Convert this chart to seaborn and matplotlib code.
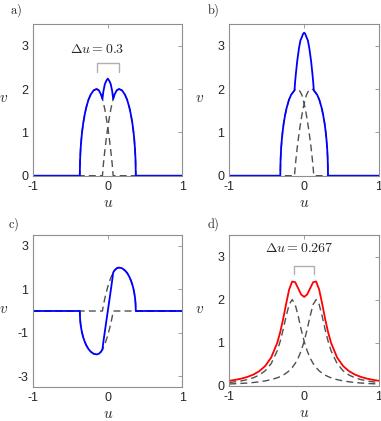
import numpy as np
import matplotlib
matplotlib.use("Agg")
import matplotlib.pyplot as plt
import seaborn as sns

sns.set_style("white")
plt.rcParams["font.family"] = ["Liberation Sans", "DejaVu Sans"]
plt.rcParams["mathtext.fontset"] = "cm"

# panel a: two humps 0.3 apart
u_a = [-1, -0.376, -0.372, -0.365, -0.355, -0.345, -0.33, -0.31, -0.29, -0.26, -0.23, -0.19,
       -0.15, -0.12, -0.09, -0.072, -0.06, -0.04, -0.02, 0, 0.02, 0.04, 0.06, 0.072, 0.09,
       0.12, 0.15, 0.19, 0.23, 0.26, 0.29, 0.31, 0.33, 0.345, 0.355, 0.365, 0.372, 0.376, 1]
left_a = [0, 0, 0.37, 0.62, 0.84, 1.01, 1.21, 1.41, 1.57, 1.75, 1.87, 1.97,
          2.0, 1.97, 1.87, 1.77, 1.69, 1.53, 1.33, 1.12, 0.86, 0.58, 0.25, 0, 0,
          0, 0, 0, 0, 0, 0, 0, 0, 0, 0, 0, 0, 0, 0]
right_a = [0, 0, 0, 0, 0, 0, 0, 0, 0, 0, 0, 0,
           0, 0, 0, 0, 0.25, 0.58, 0.86, 1.12, 1.33, 1.53, 1.69, 1.77, 1.87,
           1.97, 2.0, 1.97, 1.87, 1.75, 1.57, 1.41, 1.21, 1.01, 0.84, 0.62, 0.37, 0, 0]
total_a = [0, 0, 0.37, 0.62, 0.84, 1.01, 1.21, 1.41, 1.57, 1.75, 1.87, 1.97,
           2.0, 1.97, 1.87, 1.77, 1.94, 2.11, 2.19, 2.24, 2.19, 2.11, 1.94, 1.77, 1.87,
           1.97, 2.0, 1.97, 1.87, 1.75, 1.57, 1.41, 1.21, 1.01, 0.84, 0.62, 0.37, 0, 0]

# panel b: humps closer together
u_b = [-1, -0.319, -0.315, -0.308, -0.298, -0.288, -0.273, -0.253, -0.233, -0.203, -0.173,
       -0.129, -0.12, -0.11, -0.093, -0.07, -0.05, -0.03, -0.015, 0, 0.015, 0.03, 0.05, 0.07,
       0.093, 0.11, 0.12, 0.129, 0.173, 0.203, 0.233, 0.253, 0.273, 0.288, 0.298, 0.308,
       0.315, 0.319, 1]
left_b = [0, 0, 0.37, 0.62, 0.84, 1.01, 1.21, 1.41, 1.57, 1.75, 1.87,
          1.97, 1.99, 1.99, 2.0, 1.98, 1.93, 1.86, 1.77, 1.65, 1.55, 1.40, 1.19, 0.95,
          0.64, 0.37, 0.19, 0, 0, 0, 0, 0, 0, 0, 0, 0,
          0, 0, 0]
right_b = [0, 0, 0, 0, 0, 0, 0, 0, 0, 0, 0,
           0, 0.19, 0.37, 0.64, 0.95, 1.19, 1.40, 1.55, 1.65, 1.77, 1.86, 1.93, 1.98,
           2.0, 1.99, 1.99, 1.97, 1.87, 1.75, 1.57, 1.41, 1.21, 1.01, 0.84, 0.62,
           0.37, 0, 0]
total_b = [0, 0, 0.37, 0.62, 0.84, 1.01, 1.21, 1.41, 1.57, 1.75, 1.87,
           1.97, 2.18, 2.36, 2.64, 2.93, 3.12, 3.20, 3.27, 3.30, 3.27, 3.20, 3.12, 2.93,
           2.64, 2.36, 2.18, 1.97, 1.87, 1.75, 1.57, 1.41, 1.21, 1.01, 0.84, 0.62,
           0.37, 0, 0]

# panel c: opposite signs
u_c = u_a
left_c = [0, 0, -0.37, -0.62, -0.84, -1.01, -1.21, -1.41, -1.57, -1.75, -1.87, -1.97,
          -2.0, -1.97, -1.87, -1.77, -1.69, -1.53, -1.33, -1.12, -0.86, -0.58, -0.25, 0, 0,
          0, 0, 0, 0, 0, 0, 0, 0, 0, 0, 0, 0, 0, 0]
right_c = right_a
total_c = [0, 0, -0.37, -0.62, -0.84, -1.01, -1.21, -1.41, -1.57, -1.75, -1.87, -1.97,
           -2.0, -1.97, -1.87, -1.77, -1.44, -0.95, -0.47, 0, 0.47, 0.95, 1.44, 1.77, 1.87,
           1.97, 2.0, 1.97, 1.87, 1.75, 1.57, 1.41, 1.21, 1.01, 0.84, 0.62, 0.37, 0, 0]

# panel d: lorentzian-like peaks
u_d = [-1, -0.92, -0.84, -0.76, -0.68, -0.6, -0.52, -0.44, -0.36, -0.32, -0.28, -0.24,
       -0.2, -0.16, -0.12, -0.08, -0.04, 0, 0.04, 0.08, 0.12, 0.16, 0.2, 0.24, 0.28,
       0.32, 0.36, 0.44, 0.52, 0.6, 0.68, 0.76, 0.84, 0.92, 1]
left_d = [0.074, 0.090, 0.111, 0.141, 0.183, 0.247, 0.347, 0.515, 0.810, 1.031, 1.308, 1.619,
          1.889, 2.0, 1.889, 1.619, 1.308, 1.031, 0.810, 0.642, 0.515, 0.420, 0.347, 0.291, 0.247,
          0.211, 0.183, 0.141, 0.111, 0.090, 0.074, 0.062, 0.053, 0.046, 0.040]
right_d = [0.040, 0.046, 0.053, 0.062, 0.074, 0.090, 0.111, 0.141, 0.183, 0.211, 0.247, 0.291,
           0.347, 0.420, 0.515, 0.642, 0.810, 1.031, 1.308, 1.619, 1.889, 2.0, 1.889, 1.619, 1.308,
           1.031, 0.810, 0.515, 0.347, 0.247, 0.183, 0.141, 0.111, 0.090, 0.074]
total_d = [0.114, 0.136, 0.164, 0.203, 0.257, 0.337, 0.458, 0.656, 0.993, 1.242, 1.555, 1.910,
           2.236, 2.420, 2.404, 2.261, 2.118, 2.062, 2.118, 2.261, 2.404, 2.420, 2.236, 1.910, 1.555,
           1.242, 0.993, 0.656, 0.458, 0.337, 0.257, 0.203, 0.164, 0.136, 0.114]

gap_a = [-0.15, 0.15]
gap_d = [-0.1335, 0.1335]

W, H = 381, 421
fig = plt.figure(figsize=(W / 100, H / 100), dpi=100)

def box(l, t, r, b):
    return [l / W, 1 - b / H, (r - l) / W, (b - t) / H]

axes = {
    "a": fig.add_axes(box(33.3, 24, 182.3, 175.7)),
    "b": fig.add_axes(box(229.3, 24, 379, 175.7)),
    "c": fig.add_axes(box(33.3, 235, 182.3, 387)),
    "d": fig.add_axes(box(229.3, 235, 379, 385.7)),
}

panels = {
    "a": (u_a, left_a, right_a, total_a, "#0000ff"),
    "b": (u_b, left_b, right_b, total_b, "#0000ff"),
    "c": (u_c, left_c, right_c, total_c, "#0000ff"),
    "d": (u_d, left_d, right_d, total_d, "#ff0000"),
}

frame = "#8f8f8f"
dash_col = "#505050"
for key, ax in axes.items():
    u, l, r, s, col = panels[key]
    sns.lineplot(x=u, y=l, ax=ax, color=dash_col, lw=1.0, linestyle=(0, (5, 3)))
    sns.lineplot(x=u, y=r, ax=ax, color=dash_col, lw=1.0, linestyle=(0, (5, 3)))
    sns.lineplot(x=u, y=s, ax=ax, color=col, lw=1.3)
    ax.set_xlim(-1, 1)
    ax.set_xticks([-1, 0, 1])
    ax.set_xticklabels(["-1", "0", "1"])
    if key == "c":
        ax.set_ylim(-3.5, 3.5)
        ax.set_yticks([-3, -1, 1, 3])
        ax.set_yticklabels(["-3", "-1", "1", "3"])
    else:
        ax.set_ylim(0, 3.5)
        ax.set_yticks([0, 1, 2, 3])
        ax.set_yticklabels(["0", "1", "2", "3"])
    ax.tick_params(direction="in", top=True, right=True, length=3, width=0.6,
                   color=frame, labelsize=9, pad=3.5)
    for sp in ax.spines.values():
        sp.set_color(frame)
        sp.set_linewidth(0.8)
    ax.set_xlabel("$u$", fontsize=11, va="center")
    ax.xaxis.set_label_coords(0.5, -0.18)
    ax.set_ylabel("$v$", fontsize=11, rotation=0, va="center", ha="center")
    ax.yaxis.set_label_coords(-0.2, 0.51)

# bracket and label for the peak spacing
br = "#b0b0b0"
axes["a"].plot([gap_a[0], gap_a[0], gap_a[1], gap_a[1]], [2.4, 2.61, 2.61, 2.4], color=br, lw=1.0)
axes["a"].text(-0.14, 2.92, r"$\Delta u = 0.3$", ha="center", va="center", fontsize=10)
axes["d"].plot([gap_d[0], gap_d[0], gap_d[1], gap_d[1]], [2.6, 2.77, 2.77, 2.6], color=br, lw=1.0)
axes["d"].text(-0.06, 3.2, r"$\Delta u = 0.267$", ha="center", va="center", fontsize=10)

for lab, (x, y) in {"a": (16, 11), "b": (213, 11), "c": (14, 225), "d": (213, 225)}.items():
    fig.text(x / W, 1 - y / H, r"$\mathrm{" + lab + ")}$", ha="center", va="center", fontsize=9)

fig.savefig("out.png", dpi=100)
